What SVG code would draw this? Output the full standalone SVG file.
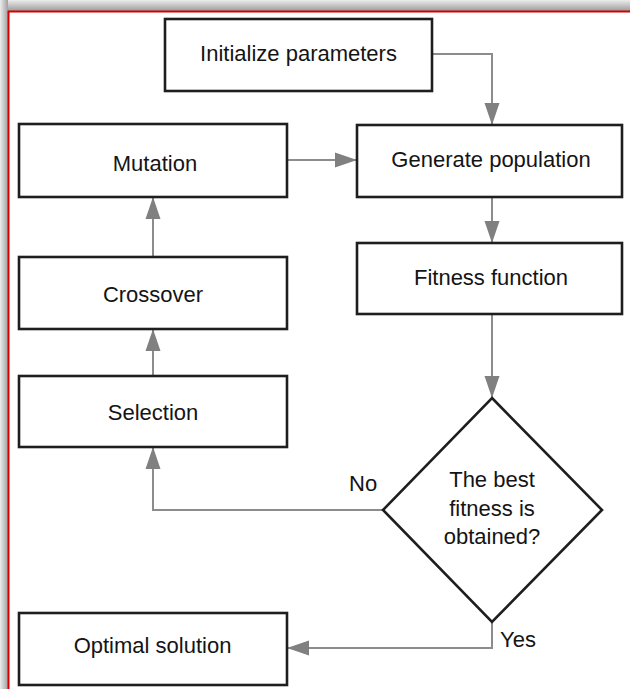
<svg xmlns="http://www.w3.org/2000/svg" width="630" height="689" viewBox="0 0 630 689">
  <defs>
    <linearGradient id="gTop" x1="0" y1="0" x2="0" y2="1">
      <stop offset="0" stop-color="#ececec"/>
      <stop offset="1" stop-color="#9c9c9c"/>
    </linearGradient>
    <linearGradient id="gLeft" x1="0" y1="0" x2="1" y2="0">
      <stop offset="0" stop-color="#ececec"/>
      <stop offset="1" stop-color="#a0a0a0"/>
    </linearGradient>
    <marker id="arr" markerUnits="userSpaceOnUse" markerWidth="22" markerHeight="16" refX="22" refY="8" orient="auto">
      <path d="M0,0.5 L22,8 L0,15.5 z" fill="#808080"/>
    </marker>
    <style>
      .box { fill: #ffffff; stroke: #1e1e1e; stroke-width: 2.6; }
      .lbl { font-family: "Liberation Sans", Arial, sans-serif; font-size: 22px; fill: #141414; text-anchor: middle; }
      .side { font-family: "Liberation Sans", Arial, sans-serif; font-size: 22px; fill: #141414; }
      .con { fill: none; stroke: #8c8c8c; stroke-width: 2; }
    </style>
  </defs>

  <rect x="0" y="0" width="630" height="689" fill="#ffffff"/>
  <!-- frame -->
  <rect x="0" y="0" width="630" height="11" fill="url(#gTop)"/>
  <rect x="0" y="0" width="8" height="689" fill="url(#gLeft)"/>
  <path d="M8.5,689 V11.5 H630" fill="none" stroke="#d40000" stroke-width="2"/>

  <g id="connectors">
    <path class="con" d="M432,54 H492 V125" marker-end="url(#arr)"/>
    <path class="con" d="M287,160 H357" marker-end="url(#arr)"/>
    <path class="con" d="M492,197 V243" marker-end="url(#arr)"/>
    <path class="con" d="M492,314 V398" marker-end="url(#arr)"/>
    <path class="con" d="M153,257 V197" marker-end="url(#arr)"/>
    <path class="con" d="M153,376 V329" marker-end="url(#arr)"/>
    <path class="con" d="M383,510 H153 V447" marker-end="url(#arr)"/>
    <path class="con" d="M492,622 V648 H287" marker-end="url(#arr)"/>
  </g>

  <g id="init">
    <rect class="box" x="165" y="19" width="267" height="72"/>
    <text class="lbl" x="298.5" y="61">Initialize parameters</text>
  </g>
  <g id="generate">
    <rect class="box" x="357" y="125" width="265" height="72"/>
    <text class="lbl" x="491" y="167">Generate population</text>
  </g>
  <g id="fitness">
    <rect class="box" x="357" y="243" width="265" height="71"/>
    <text class="lbl" x="491" y="285">Fitness function</text>
  </g>
  <g id="mutation">
    <rect class="box" x="19" y="124" width="268" height="73"/>
    <text class="lbl" x="155" y="171">Mutation</text>
  </g>
  <g id="crossover">
    <rect class="box" x="19" y="257" width="268" height="72"/>
    <text class="lbl" x="153" y="302">Crossover</text>
  </g>
  <g id="selection">
    <rect class="box" x="19" y="376" width="268" height="71"/>
    <text class="lbl" x="153" y="420">Selection</text>
  </g>
  <g id="decision">
    <polygon class="box" points="492,398 602,510 492,622 383,510"/>
    <text class="lbl" x="492" y="487">The best</text>
    <text class="lbl" x="492" y="516">fitness is</text>
    <text class="lbl" x="492" y="544">obtained?</text>
  </g>
  <g id="optimal">
    <rect class="box" x="19" y="613" width="268" height="72"/>
    <text class="lbl" x="152.5" y="653">Optimal solution</text>
  </g>
  <g id="labels">
    <text class="side" x="349" y="491">No</text>
    <text class="side" x="500" y="647">Yes</text>
  </g>
</svg>
